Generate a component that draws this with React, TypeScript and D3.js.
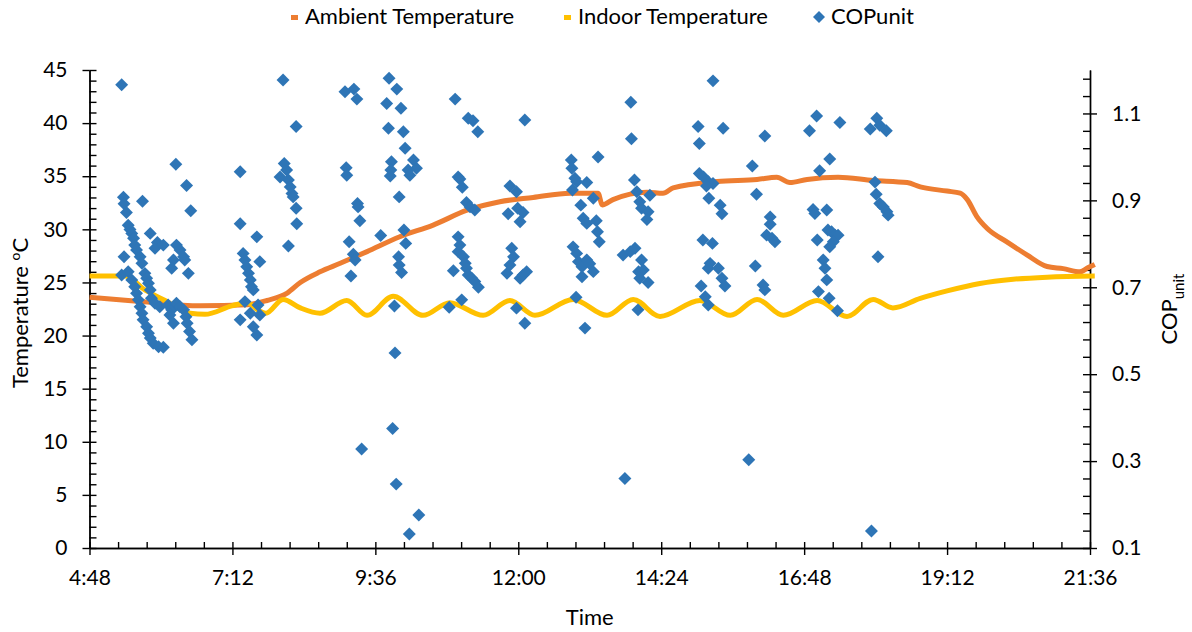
import { useEffect, useRef } from "react";
import * as d3 from "d3";

const W = 1192;
const H = 632;
const FONT = "Lato, 'Open Sans', sans-serif";

// hour of day (decimal) -> °C
const AMBIENT_HOURS = [
  4.8, 5.65, 6.66, 7.45, 7.78, 8.12, 8.34, 8.67, 9.01, 9.46, 10.01, 10.57, 11.14, 11.69, 12.25, 12.87, 13.34, 13.41,
  13.59, 14.16, 14.43, 14.6, 15.34, 16.01, 16.34, 16.56, 16.85, 17.37, 17.96, 18.53, 18.75, 19.2, 19.42, 19.54, 19.7,
  19.87, 20.21, 20.54, 20.88, 21.15, 21.43, 21.57, 21.68,
];
const AMBIENT_TEMP = [
  23.6, 23.2, 22.8, 22.9, 23.3, 24.0, 25.0, 26.0, 26.8, 27.9, 29.3, 30.4, 31.8, 32.6, 33.0, 33.4, 33.4, 32.3, 32.8, 33.5,
  33.4, 33.9, 34.5, 34.7, 34.9, 34.4, 34.7, 34.9, 34.6, 34.4, 34.0, 33.6, 33.4, 32.8, 31.2, 30.1, 28.8, 27.6, 26.5, 26.3,
  26.0, 26.4, 26.7,
];

const INDOOR_HOURS = [
  4.8, 5.4, 5.73, 6.07, 6.49, 6.74, 7.19, 7.45, 7.63, 7.76, 8.05, 8.34, 8.67, 9.12, 9.46, 9.9, 10.4, 10.85, 11.41, 11.86,
  12.28, 12.92, 13.49, 13.93, 14.38, 15.05, 15.56, 16.01, 16.45, 17.02, 17.52, 17.96, 18.29, 18.75, 19.2, 19.75, 20.31,
  20.88, 21.68,
];
const INDOOR_TEMP = [
  25.6, 25.6, 24.3, 23.3, 22.1, 22.0, 22.8, 23.1, 22.4, 22.1, 23.4, 22.6, 22.1, 23.3, 21.9, 23.7, 21.9, 23.1, 21.9, 23.3,
  21.9, 23.4, 21.9, 23.4, 21.8, 23.3, 21.9, 23.4, 21.9, 23.3, 21.8, 23.4, 22.6, 23.5, 24.2, 24.9, 25.3, 25.5, 25.6,
];

// [hour of day, COPunit]
const COP_POINTS: [number, number][] = [
  [5.34, 1.166], [8.05, 1.177], [8.27, 1.07], [6.25, 0.983], [7.33, 0.966], [8.07, 0.985], [8.11, 0.97], [8.0, 0.954],
  [8.14, 0.947], [8.17, 0.931], [8.2, 0.916], [8.22, 0.908], [8.27, 0.882], [8.28, 0.846], [8.14, 0.795], [6.43, 0.934],
  [6.5, 0.876],
  [5.37, 0.907], [5.38, 0.892], [5.42, 0.872], [5.45, 0.843], [5.48, 0.833], [5.51, 0.824], [5.54, 0.813], [5.56, 0.797],
  [5.59, 0.786], [5.65, 0.77], [5.68, 0.755], [5.69, 0.898], [5.82, 0.824], [5.94, 0.803], [5.9, 0.79], [6.04, 0.797],
  [5.38, 0.77],
  [5.34, 0.728], [5.45, 0.736], [5.51, 0.717], [5.56, 0.701], [5.59, 0.686], [5.62, 0.671], [5.65, 0.655], [5.68, 0.64],
  [5.7, 0.625], [5.76, 0.609], [5.79, 0.594], [5.82, 0.583], [5.87, 0.571], [5.96, 0.563], [6.04, 0.562],
  [5.73, 0.732], [5.76, 0.721], [5.79, 0.709], [5.82, 0.694], [5.84, 0.675], [5.9, 0.663], [5.98, 0.655],
  [6.26, 0.797], [6.32, 0.786], [6.38, 0.77], [6.21, 0.763], [6.18, 0.744], [6.4, 0.763], [6.46, 0.732],
  [6.12, 0.659], [6.18, 0.648], [6.15, 0.636], [6.21, 0.617], [6.26, 0.663], [6.32, 0.655], [6.38, 0.648], [6.42, 0.632],
  [6.44, 0.617], [6.48, 0.598], [6.52, 0.579],
  [7.33, 0.846], [7.38, 0.778], [7.41, 0.763], [7.44, 0.747], [7.47, 0.732], [7.5, 0.717], [7.52, 0.701], [7.55, 0.694],
  [7.61, 0.816], [7.66, 0.759], [7.41, 0.667], [7.33, 0.625], [7.5, 0.64], [7.63, 0.659], [7.66, 0.636], [7.55, 0.609],
  [7.61, 0.59],
  [9.83, 1.181], [9.96, 1.156], [9.09, 1.15], [9.24, 1.156], [9.29, 1.133], [9.79, 1.123], [10.03, 1.112], [9.82, 1.066],
  [10.07, 1.058], [10.1, 1.02], [10.24, 0.993], [10.29, 0.974], [10.15, 0.97], [10.18, 0.958], [9.87, 0.989],
  [9.86, 0.97], [9.85, 0.956], [10.0, 0.908],
  [10.94, 1.133], [11.16, 1.089], [11.24, 1.083], [11.32, 1.058], [12.11, 1.085],
  [9.11, 0.975], [9.12, 0.958], [9.3, 0.893], [9.31, 0.885], [9.34, 0.853], [9.16, 0.805], [9.23, 0.776], [9.26, 0.763],
  [9.19, 0.726],
  [9.69, 0.819], [10.08, 0.832], [10.11, 0.801], [9.99, 0.77], [10.0, 0.751], [10.04, 0.734], [9.92, 0.657], [9.93, 0.549],
  [10.99, 0.954], [11.02, 0.949], [11.06, 0.93], [11.13, 0.895], [11.19, 0.885], [11.27, 0.878], [10.99, 0.816],
  [11.02, 0.797], [10.99, 0.782], [11.08, 0.77], [11.11, 0.755], [11.13, 0.744], [11.16, 0.728], [11.22, 0.721],
  [11.27, 0.713], [11.33, 0.7], [10.91, 0.738], [11.05, 0.671], [10.84, 0.654],
  [11.86, 0.933], [11.97, 0.92], [11.83, 0.869], [11.99, 0.882], [12.08, 0.872], [12.03, 0.851], [11.89, 0.79],
  [11.92, 0.77], [11.86, 0.751], [11.81, 0.732], [12.03, 0.721], [12.08, 0.728], [12.14, 0.736], [11.97, 0.652],
  [12.11, 0.617],
  [9.89, 0.375], [9.37, 0.328], [9.95, 0.247], [10.33, 0.176], [10.17, 0.132],
  [15.27, 1.175], [13.89, 1.126], [15.02, 1.07], [15.44, 1.066], [16.14, 1.048], [15.04, 1.031], [13.9, 1.042],
  [12.89, 0.993], [12.9, 0.974], [13.34, 1.0], [12.95, 0.951], [12.98, 0.943], [13.15, 0.941], [12.91, 0.924],
  [13.26, 0.905], [13.05, 0.889], [13.09, 0.859], [13.15, 0.847], [13.31, 0.853], [13.33, 0.828], [13.36, 0.805],
  [12.92, 0.793], [12.98, 0.778], [13.01, 0.759], [13.07, 0.747], [13.07, 0.724], [13.15, 0.763], [13.2, 0.754],
  [13.26, 0.736], [12.97, 0.677], [13.12, 0.606],
  [13.95, 0.947], [13.99, 0.92], [14.21, 0.912], [14.04, 0.897], [14.07, 0.882], [14.18, 0.874], [14.16, 0.856],
  [13.76, 0.774], [13.88, 0.782], [13.96, 0.79], [14.07, 0.763], [14.02, 0.736], [14.1, 0.74], [14.04, 0.721],
  [14.18, 0.711], [14.01, 0.648],
  [15.04, 0.962], [15.11, 0.954], [15.19, 0.943], [15.27, 0.939], [15.16, 0.933], [15.2, 0.905], [15.39, 0.889],
  [15.42, 0.869], [15.1, 0.809], [15.26, 0.801], [15.22, 0.755], [15.19, 0.744], [15.36, 0.744], [15.42, 0.721],
  [15.47, 0.703], [15.07, 0.703], [15.14, 0.678], [15.19, 0.659],
  [15.93, 0.979], [16.0, 0.914], [16.23, 0.862], [16.23, 0.845], [16.17, 0.82], [16.26, 0.813], [16.31, 0.805],
  [15.98, 0.749], [16.11, 0.705], [16.14, 0.694],
  [13.79, 0.26], [15.87, 0.303],
  [17.01, 1.094], [17.4, 1.079], [16.89, 1.06], [18.02, 1.089], [17.91, 1.064], [18.07, 1.073], [18.18, 1.06],
  [17.23, 0.995], [17.06, 0.968],
  [17.99, 0.942], [18.01, 0.914], [18.07, 0.893], [18.13, 0.885], [18.19, 0.874], [18.21, 0.866],
  [16.95, 0.879], [16.98, 0.87], [17.18, 0.878], [17.2, 0.832], [17.26, 0.828], [17.32, 0.82], [17.37, 0.82],
  [17.29, 0.805], [17.23, 0.793], [17.02, 0.809], [17.12, 0.763], [17.15, 0.744], [17.18, 0.717], [17.04, 0.69],
  [17.22, 0.675], [17.36, 0.646], [18.04, 0.77], [17.93, 0.139],
];

const X_TICKS = [4.8, 7.2, 9.6, 12, 14.4, 16.8, 19.2, 21.6];
const TEMP_TICKS = [0, 5, 10, 15, 20, 25, 30, 35, 40, 45];
const COP_TICKS = [0.1, 0.3, 0.5, 0.7, 0.9, 1.1];

const ORANGE = "#ED7D31";
const YELLOW = "#FFC000";
const BLUE = "#2E75B6";

const fmtTime = (h: number) => {
  const hh = Math.floor(h + 1e-6);
  const mm = Math.round((h - hh) * 60);
  return `${hh}:${String(mm).padStart(2, "0")}`;
};

export default function App() {
  const ref = useRef<SVGSVGElement | null>(null);

  useEffect(() => {
    const svg = d3.select(ref.current);
    svg.selectAll("*").remove();
    const m = { left: 89.5, right: 1090, top: 70, bottom: 548 };

    const x = d3.scaleLinear().domain([4.8, 21.6]).range([m.left, m.right]);
    const yT = d3.scaleLinear().domain([0, 45]).range([m.bottom, m.top]);
    const yC = d3.scaleLinear().domain([0.1, 1.2]).range([m.bottom, m.top]);

    svg.append("rect").attr("width", W).attr("height", H).attr("fill", "#fff");

    const styleAxis = (s: d3.Selection<SVGGElement, unknown, null, undefined>) => {
      s.select(".domain").attr("stroke", "#000").attr("stroke-width", 1.4);
      s.selectAll(".tick line").attr("stroke", "#000").attr("stroke-width", 1.4);
      s.selectAll("text").attr("fill", "#000").attr("font-family", FONT).attr("font-size", 21);
    };

    // left axis: minor inside, major crossing
    svg.append("g").attr("transform", `translate(${m.left},0)`)
      .call(d3.axisRight(yT).tickValues(d3.range(0, 46)).tickSize(7).tickSizeOuter(0).tickFormat(() => ""))
      .call(styleAxis);
    svg.append("g").attr("transform", `translate(${m.left},0)`)
      .call(d3.axisLeft(yT).tickValues(TEMP_TICKS).tickSize(7).tickSizeOuter(0).tickPadding(15))
      .call(styleAxis);

    // right axis
    svg.append("g").attr("transform", `translate(${m.right},0)`)
      .call(d3.axisLeft(yC).tickValues(d3.range(28).map((i) => 0.1 + i * 0.04)).tickSize(7).tickSizeOuter(0).tickFormat(() => ""))
      .call(styleAxis);
    svg.append("g").attr("transform", `translate(${m.right},0)`)
      .call(d3.axisRight(yC).tickValues(COP_TICKS).tickSize(7).tickSizeOuter(0).tickPadding(15).tickFormat(d3.format(".1f") as never))
      .call(styleAxis);

    // bottom axis
    svg.append("g").attr("transform", `translate(0,${m.bottom})`)
      .call(d3.axisTop(x).tickValues(d3.range(36).map((i) => 4.8 + i * 0.48)).tickSize(6).tickSizeOuter(0).tickFormat(() => ""))
      .call(styleAxis);
    svg.append("g").attr("transform", `translate(0,${m.bottom})`)
      .call(d3.axisBottom(x).tickValues(X_TICKS).tickSize(7).tickSizeOuter(0).tickPadding(15).tickFormat(fmtTime as never))
      .call(styleAxis);

    const line = d3.line<number>().curve(d3.curveMonotoneX);

    svg.append("path")
      .attr("d", line.x((_, i) => x(AMBIENT_HOURS[i])).y((t) => yT(t))(AMBIENT_TEMP)!)
      .attr("fill", "none").attr("stroke", ORANGE).attr("stroke-width", 5).attr("stroke-linejoin", "round");
    svg.append("path")
      .attr("d", line.x((_, i) => x(INDOOR_HOURS[i])).y((t) => yT(t))(INDOOR_TEMP)!)
      .attr("fill", "none").attr("stroke", YELLOW).attr("stroke-width", 5).attr("stroke-linejoin", "round");

    const diamond = d3.symbol(d3.symbolSquare, 84)()!;
    svg.append("g").selectAll("path").data(COP_POINTS).join("path")
      .attr("transform", (d) => `translate(${x(d[0])},${yC(d[1])}) rotate(45)`)
      .attr("d", diamond)
      .attr("fill", BLUE);

    // axis titles
    svg.append("text").attr("x", x(13.2)).attr("y", 625).attr("text-anchor", "middle")
      .attr("font-family", FONT).attr("font-size", 22).text("Time");

    const tl = svg.append("text").attr("transform", `translate(28,${(m.top + m.bottom) / 2 + 4}) rotate(-90)`)
      .attr("text-anchor", "middle").attr("font-family", FONT).attr("font-size", 22);
    tl.append("tspan").text("Temperature ");
    tl.append("tspan").attr("font-size", 14).attr("dy", -8).text("o");
    tl.append("tspan").attr("dy", 8).text("C");

    const tr = svg.append("text").attr("transform", `translate(1177,${(m.top + m.bottom) / 2}) rotate(-90)`)
      .attr("text-anchor", "middle").attr("font-family", FONT).attr("font-size", 22);
    tr.append("tspan").text("COP");
    tr.append("tspan").attr("font-size", 15).attr("dy", 7).text("unit");

    // legend
    const lg = svg.append("g").attr("font-family", FONT).attr("font-size", 22);
    lg.append("rect").attr("x", 291).attr("y", 15).attr("width", 7).attr("height", 5).attr("fill", ORANGE);
    lg.append("text").attr("x", 305).attr("y", 24).text("Ambient Temperature");
    lg.append("rect").attr("x", 564).attr("y", 15).attr("width", 7).attr("height", 5).attr("fill", YELLOW);
    lg.append("text").attr("x", 578).attr("y", 24).text("Indoor Temperature");
    lg.append("path").attr("transform", "translate(819,17) rotate(45)").attr("d", d3.symbol(d3.symbolSquare, 72)()!).attr("fill", BLUE);
    lg.append("text").attr("x", 831).attr("y", 24).text("COPunit");
  }, []);

  return (
    <svg
      ref={ref}
      width={W}
      height={H}
      style={{ position: "absolute", left: 0, top: 0, display: "block" }}
    />
  );
}
